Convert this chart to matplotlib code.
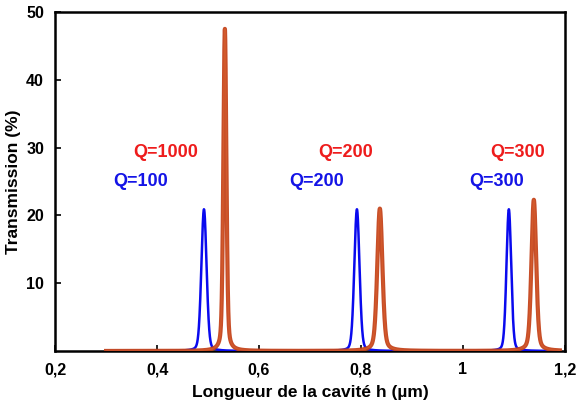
import numpy as np
import matplotlib
matplotlib.use("Agg")
import matplotlib.pyplot as plt

plt.rcParams['font.family'] = ['Liberation Sans', 'DejaVu Sans']
plt.rcParams['font.weight'] = 'bold'

# Peak parameters (cavity length in µm, transmission in %)
blue_centers = [0.492, 0.792, 1.090]
blue_heights = [20.9, 20.9, 20.9]
blue_fwhm = [0.012, 0.012, 0.011]

red_centers = [0.533, 0.837, 1.139]
red_heights = [47.5, 21.0, 22.3]
red_fwhm = [0.007, 0.012, 0.011]

blue_labels = ["Q=100", "Q=200", "Q=300"]
red_labels = ["Q=1000", "Q=200", "Q=300"]
blue_label_x = [0.367, 0.712, 1.067]
red_label_x = [0.416, 0.769, 1.108]
blue_label_y = 25.0
red_label_y = 29.3

x_ticks = [0.2, 0.4, 0.6, 0.8, 1.0, 1.2]
x_tick_labels = ["0,2", "0,4", "0,6", "0,8", "1", "1,2"]
y_ticks = [10, 20, 30, 40, 50]


def peak_sum(h, centers, heights, fwhm, eta):
    y = np.zeros_like(h)
    for c, a, w in zip(centers, heights, fwhm):
        g = np.exp(-4 * np.log(2) * ((h - c) / w) ** 2)
        l = 1 / (1 + ((h - c) / (w / 2)) ** 2)
        y += a * ((1 - eta) * g + eta * l)
    return y


h = np.linspace(0.30, 1.19, 8000)
blue = peak_sum(h, blue_centers, blue_heights, blue_fwhm, 0.2)
red = peak_sum(h, red_centers, red_heights, red_fwhm, 0.35)

fig = plt.figure(figsize=(5.8, 4.07), dpi=100)
ax = fig.add_axes([0.095, 0.1376, 0.879, 0.833])

ax.plot(h, blue, color='#0a0aee', lw=1.8, zorder=3)
ax.plot(h, red, color='#c4441c', lw=3.0, zorder=4, alpha=0.95)
ax.plot(h, red, color='#d8602e', lw=0.9, zorder=5, alpha=0.7)

for lx, t in zip(blue_label_x, blue_labels):
    ax.text(lx, blue_label_y, t, color='#1414e6', fontsize=13, fontweight='bold',
            ha='center', va='center')
for lx, t in zip(red_label_x, red_labels):
    ax.text(lx, red_label_y, t, color='#ee1c1c', fontsize=13, fontweight='bold',
            ha='center', va='center')

ax.set_xlim(0.2, 1.2)
ax.set_ylim(0, 50)
ax.set_xticks(x_ticks)
ax.set_xticklabels(x_tick_labels)
ax.set_yticks(y_ticks)
ax.tick_params(direction='in', length=4, width=1.2, labelsize=11.5, pad=8)
for lab in ax.get_xticklabels() + ax.get_yticklabels():
    lab.set_fontweight('bold')
for s in ax.spines.values():
    s.set_linewidth(1.8)

ax.set_xlabel("Longueur de la cavité h (µm)", fontsize=12.5, fontweight='bold', labelpad=6)
ax.set_ylabel("Transmission (%)", fontsize=12.5, fontweight='bold', labelpad=4)

fig.savefig("out.png", dpi=100)
